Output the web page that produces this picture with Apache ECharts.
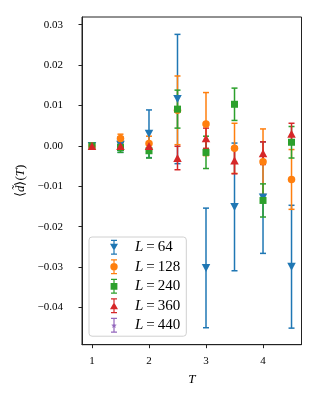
<!DOCTYPE html>
<html>
<head>
    <meta charset="utf-8">
    <title>ECharts</title>
    <script src="https://cdn.jsdelivr.net/npm/echarts@6/dist/echarts.min.js"></script>
    <style>
        html, body { margin: 0; padding: 0; background: #fff; }
        #main { width: 320px; height: 400px; }
    </style>
</head>
<body>
<div id="main"></div>
<script type="text/javascript">
    var T = [1, 1.5, 2, 2.5, 3, 3.5, 4, 4.5];
    var sizes = [64, 128, 240, 360, 440];

    var d64 = [0.0000, 0.0003, 0.0030, 0.0116, -0.0302, -0.0151, -0.0128, -0.0299];
    var e64 = [0.0003, 0.0019, 0.0059, 0.0160, 0.0148, 0.0158, 0.0138, 0.0152];
    var d128 = [0.0000, 0.0018, 0.0006, 0.0088, 0.0054, -0.0006, -0.0039, -0.0083];
    var e128 = [0.0003, 0.0011, 0.0018, 0.0085, 0.0078, 0.0062, 0.0081, 0.0074];
    var d240 = [0.0000, -0.0004, -0.0012, 0.0091, -0.0016, 0.0103, -0.0135, 0.0009];
    var e240 = [0.0003, 0.0012, 0.0018, 0.0047, 0.0040, 0.0040, 0.0041, 0.0039];
    var d360 = [0.0000, 0.0000, 0.0000, -0.0030, 0.0019, -0.0036, -0.0018, 0.0030];
    var e360 = [0.0003, 0.0009, 0.0010, 0.0029, 0.0025, 0.0033, 0.0028, 0.0026];
    var d440 = [];
    var e440 = [];

    var yTicks = [-0.04, -0.03, -0.02, -0.01, 0, 0.01, 0.02, 0.03];
    var xTicks = [1, 2, 3, 4];

    var colors = ['#1f77b4', '#ff7f0e', '#2ca02c', '#d62728', '#9467bd'];
    var values = [d64, d128, d240, d360, d440];
    var errors = [e64, e128, e240, e360, e440];

    var serif = 'Liberation Serif';

    // marker shapes (matplotlib v, o, s, ^, *)
    var markers = [
        {symbol: 'triangle', size: [8.5, 8], rotate: 180},
        {symbol: 'circle', size: 7.5, rotate: 0},
        {symbol: 'rect', size: 7, rotate: 0},
        {symbol: 'triangle', size: [8.5, 8], rotate: 0},
        {symbol: 'path://M5,0 L6.2,3.4 L10,3.6 L7,5.9 L8.1,9.5 L5,7.4 L1.9,9.5 L3,5.9 L0,3.6 L3.8,3.4 Z', size: 6, rotate: 0}
    ];

    // legend icons (8 x 15 box): error bar with caps + marker, all filled shapes
    var bar = 'M3.4,0 L4.6,0 L4.6,15 L3.4,15 Z M1,0 L7,0 L7,1.3 L1,1.3 Z M1,13.7 L7,13.7 L7,15 L1,15 Z ';
    var icons = [
        bar + 'M0,4 L8,4 L4,11 Z',
        bar + 'M4,3.8 A3.7,3.7 0 1,1 3.99,3.8 Z',
        bar + 'M0.6,4.2 L7.4,4.2 L7.4,11 L0.6,11 Z',
        bar + 'M4,4 L8,11 L0,11 Z',
        bar + 'M4,5 L4.8,6.9 L6.8,7 L5.2,8.2 L5.8,10.2 L4,9 L2.2,10.2 L2.8,8.2 L1.2,7 L3.2,6.9 Z'
    ];

    function errRender(color) {
        return function (params, api) {
            var x = api.value(0), y = api.value(1), e = api.value(2);
            var top = api.coord([x, y + e]);
            var bot = api.coord([x, y - e]);
            var cw = 3;
            var st = {stroke: color, lineWidth: 1.5};
            return {
                type: 'group',
                children: [
                    {type: 'line', shape: {x1: top[0], y1: top[1], x2: bot[0], y2: bot[1]}, style: st},
                    {type: 'line', shape: {x1: top[0] - cw, y1: top[1], x2: top[0] + cw, y2: top[1]}, style: st},
                    {type: 'line', shape: {x1: bot[0] - cw, y1: bot[1], x2: bot[0] + cw, y2: bot[1]}, style: st}
                ]
            };
        };
    }

    var series = [];
    var legendData = [];
    sizes.forEach(function (L, k) {
        var name = 'L = ' + L;
        var errData = [], ptData = [];
        for (var i = 0; i < values[k].length; i++) {
            errData.push([T[i], values[k][i], errors[k][i]]);
            ptData.push([T[i], values[k][i]]);
        }
        series.push({
            type: 'custom',
            name: name,
            renderItem: errRender(colors[k]),
            data: errData,
            itemStyle: {color: colors[k]},
            encode: {x: 0, y: 1},
            silent: true,
            z: 2
        });
        series.push({
            type: 'scatter',
            name: name,
            data: ptData,
            symbol: markers[k].symbol,
            symbolSize: markers[k].size,
            symbolRotate: markers[k].rotate,
            itemStyle: {color: colors[k], opacity: 1},
            z: 2
        });
        legendData.push({name: name, icon: 'path://' + icons[k], itemStyle: {color: colors[k]}});
    });

    function fmtY(v) {
        if (Math.abs(v) < 1e-9) return '0.00';
        return (v < 0 ? '\u2212' : '') + Math.abs(v).toFixed(2);
    }

    var chart = echarts.init(document.getElementById('main'), null, {renderer: 'canvas'});
    var option = {
        animation: false,
        color: colors,
        grid: {
            left: 82,
            right: 18.5,
            top: 17,
            bottom: 55.3,
            show: true,
            borderColor: '#222',
            borderWidth: 1,
            backgroundColor: 'transparent'
        },
        legend: {
            orient: 'vertical',
            left: 89,
            top: 237,
            data: legendData,
            itemWidth: 8,
            itemHeight: 15,
            itemGap: 4.5,
            padding: [2.7, 6, 3.5, 21],
            backgroundColor: 'rgba(255,255,255,0.8)',
            borderColor: '#d0d0d0',
            borderWidth: 1,
            borderRadius: 3,
            formatter: function (name) {
                return '{s|}{i|L}{e|=}{t|' + name.split(' = ')[1] + '}';
            },
            textStyle: {
                lineHeight: 15,
                rich: {
                    s: {width: 12},
                    i: {fontFamily: serif, fontStyle: 'italic', fontSize: 15, color: '#000'},
                    e: {fontFamily: serif, fontSize: 15, color: '#000', padding: [0, 3, 0, 3]},
                    t: {fontFamily: serif, fontSize: 15, color: '#000'}
                }
            }
        },
        xAxis: {
            type: 'value',
            min: 0.825,
            max: 4.675,
            name: 'T',
            nameLocation: 'middle',
            nameGap: 28,
            nameTextStyle: {fontFamily: serif, fontStyle: 'italic', fontSize: 13, color: '#000'},
            axisLine: {show: true, onZero: false, lineStyle: {color: '#222', width: 1}},
            axisTick: {show: true, length: 3.5, customValues: xTicks, lineStyle: {color: '#222'}},
            axisLabel: {
                customValues: xTicks,
                margin: 10.5,
                fontFamily: serif,
                fontSize: 11,
                color: '#000'
            },
            splitLine: {show: false}
        },
        yAxis: {
            type: 'value',
            min: -0.0492,
            max: 0.0319,
            name: '{r|\u27E8}{i|d\u0303}{r|\u27E9(}{i|T}{r|)}',
            nameLocation: 'middle',
            nameGap: 50,
            nameRotate: 90,
            nameTextStyle: {
                rich: {
                    r: {fontFamily: serif, fontSize: 13, color: '#000'},
                    i: {fontFamily: serif, fontStyle: 'italic', fontSize: 13, color: '#000'}
                }
            },
            axisLine: {show: true, onZero: false, lineStyle: {color: '#222', width: 1}},
            axisTick: {show: true, length: 3.5, customValues: yTicks, lineStyle: {color: '#222'}},
            axisLabel: {
                customValues: yTicks,
                margin: 19,
                fontFamily: serif,
                fontSize: 11,
                color: '#000',
                formatter: fmtY
            },
            splitLine: {show: false}
        },
        series: series
    };
    chart.setOption(option);
</script>
</body>
</html>
